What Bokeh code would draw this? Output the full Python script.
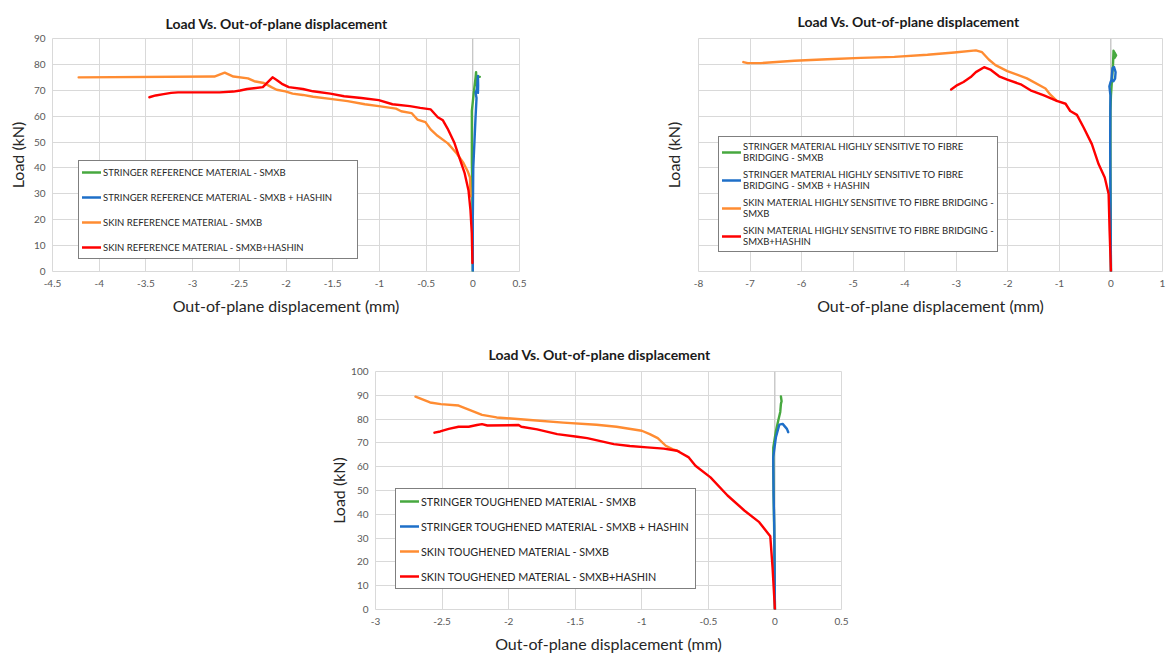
from bokeh.plotting import figure
from bokeh.models import Legend, LegendItem, Span, FixedTicker, Spacer
from bokeh.layouts import row, column
from bokeh.embed import file_html
from bokeh.resources import INLINE

FONT = "Lato"
TITLE = "Load Vs. Out-of-plane  displacement"
XLABEL = "Out-of-plane displacement (mm)"
YLABEL = "Load (kN)"

COLORS = ["#47A83F", "#1E6FC8", "#FF8C32", "#FF0000"]

# ---------------- Chart A: reference material ----------------
A_labels = ["STRINGER REFERENCE MATERIAL - SMXB",
            "STRINGER REFERENCE MATERIAL - SMXB + HASHIN",
            "SKIN REFERENCE MATERIAL - SMXB",
            "SKIN REFERENCE MATERIAL - SMXB+HASHIN"]
A_xticks = [-4.5, -4, -3.5, -3, -2.5, -2, -1.5, -1, -0.5, 0, 0.5]
A_xtick_labels = ["-4.5", "-4", "-3.5", "-3", "-2.5", "-2", "-1.5", "-1", "-0.5", "0", "0.5"]
A_yticks = [0, 10, 20, 30, 40, 50, 60, 70, 80, 90]
A_ytick_labels = ["0", "10", "20", "30", "40", "50", "60", "70", "80", "90"]

A_green_x = [0.0, -0.005, -0.01, -0.01, 0.01, 0.03, 0.035, 0.04, 0.045, 0.075]
A_green_y = [0, 30, 42, 62, 69, 75, 77, 72, 75.4, 75.2]
A_blue_x = [0.0, 0.0, 0.005, 0.02, 0.03, 0.04, 0.03, 0.045, 0.055, 0.057, 0.055]
A_blue_y = [0, 20, 40, 52, 60, 67, 69, 70.5, 75.5, 72, 69]
A_orange_x = [-4.22, -2.767, -2.656, -2.563, -2.407, -2.34, -2.237, -2.156, -2.1, -2.007,
              -1.93, -1.82, -1.71, -1.526, -1.34, -1.156, -1.007, -0.822, -0.767, -0.656,
              -0.593, -0.507, -0.452, -0.378, -0.267, -0.174, -0.1, -0.052, -0.03, -0.025]
A_orange_y = [75.0, 75.3, 76.8, 75.3, 74.6, 73.5, 72.8, 71.2, 70.2, 69.6,
              68.7, 68.2, 67.5, 66.7, 65.8, 64.6, 63.9, 62.9, 61.9, 61.2,
              58.7, 57.7, 54.9, 52.4, 49.5, 45.7, 41.9, 38.5, 36.3, 29.0]
A_red_x = [-3.463, -3.396, -3.31, -3.23, -3.156, -2.71, -2.563, -2.49, -2.415, -2.248,
           -2.144, -2.1, -2.044, -1.97, -1.82, -1.71, -1.526, -1.378, -1.193, -1.007,
           -0.86, -0.674, -0.563, -0.45, -0.375, -0.32, -0.27, -0.196, -0.143, -0.089,
           -0.046, -0.025, -0.011, -0.004]
A_red_y = [67.3, 68.0, 68.5, 69.0, 69.2, 69.2, 69.5, 69.9, 70.5, 71.2,
           75.0, 74.0, 72.5, 71.2, 70.5, 69.6, 68.7, 67.7, 67.0, 66.2,
           64.6, 63.9, 63.2, 62.6, 59.6, 58.4, 55.2, 49.6, 43.9, 38.2,
           31.3, 23.7, 14.9, 3.3]

# ---------------- Chart B: highly sensitive to fibre bridging ----------------
B_labels = ["STRINGER MATERIAL HIGHLY SENSITIVE TO FIBRE\nBRIDGING - SMXB",
            "STRINGER MATERIAL HIGHLY SENSITIVE TO FIBRE\nBRIDGING - SMXB + HASHIN",
            "SKIN MATERIAL HIGHLY SENSITIVE TO FIBRE BRIDGING -\nSMXB",
            "SKIN MATERIAL HIGHLY SENSITIVE TO FIBRE BRIDGING -\nSMXB+HASHIN"]
B_xticks = [-8, -7, -6, -5, -4, -3, -2, -1, 0, 1]
B_xtick_labels = ["-8", "-7", "-6", "-5", "-4", "-3", "-2", "-1", "0", "1"]
B_yticks = [0, 10, 20, 30, 40, 50, 60, 70, 80, 90]
B_ytick_labels = ["", "", "", "", "", "", "", "", "", ""]

B_green_x = [0.0, -0.01, -0.01, 0.0, 0.02, 0.04, 0.05, 0.07, 0.1, 0.07, 0.05]
B_green_y = [0, 40, 62, 68, 74, 80, 85.3, 84.5, 83.5, 82.5, 83]
B_blue_x = [0.0, -0.01, -0.015, -0.012, -0.01, -0.03, -0.01, 0.01, 0.03, 0.06, 0.09, 0.08, 0.05, 0.02]
B_blue_y = [0, 30, 50, 63, 68, 71.5, 73, 74, 78.5, 79, 77, 74.5, 73.5, 74]
B_orange_x = [-7.13, -7.045, -6.79, -6.14, -5.5, -4.85, -4.2, -3.56, -3.04, -2.62,
              -2.5, -2.37, -2.24, -2.01, -1.63, -1.27, -1.18, -1.05]
B_orange_y = [80.9, 80.5, 80.5, 81.4, 82.0, 82.5, 82.9, 83.7, 84.6, 85.4,
              84.7, 81.9, 79.7, 77.4, 74.6, 70.7, 68.4, 65.9]
B_red_x = [-3.10, -2.98, -2.86, -2.72, -2.62, -2.46, -2.34, -2.17, -2.01, -1.75,
           -1.56, -1.30, -1.05, -0.88, -0.79, -0.66, -0.53, -0.37, -0.24, -0.12,
           -0.045, -0.026, 0.0]
B_red_y = [70.3, 72.0, 73.2, 75.1, 77.0, 78.9, 78.0, 75.4, 74.1, 72.3,
           70.0, 68.0, 65.9, 64.8, 62.0, 60.5, 55.6, 49.2, 41.5, 36.3,
           29.9, 15.8, 0.0]

# ---------------- Chart C: toughened material ----------------
C_labels = ["STRINGER TOUGHENED MATERIAL - SMXB",
            "STRINGER TOUGHENED MATERIAL - SMXB + HASHIN",
            "SKIN TOUGHENED MATERIAL - SMXB",
            "SKIN TOUGHENED MATERIAL - SMXB+HASHIN"]
C_xticks = [-3, -2.5, -2, -1.5, -1, -0.5, 0, 0.5]
C_xtick_labels = ["-3", "-2.5", "-2", "-1.5", "-1", "-0.5", "0", "0.5"]
C_yticks = [0, 10, 20, 30, 40, 50, 60, 70, 80, 90, 100]
C_ytick_labels = ["0", "10", "20", "30", "40", "50", "60", "70", "80", "90", "100"]

C_green_x = [0.0, -0.005, -0.0125, -0.0125, 0.0075, 0.025, 0.04, 0.045, 0.05, 0.045]
C_green_y = [0, 30, 60, 68, 75, 79.4, 83, 86.4, 87.5, 89.5]
C_blue_x = [0.0, -0.005, -0.01, -0.0125, 0.0075, 0.033, 0.058, 0.09, 0.1]
C_blue_y = [0, 35, 48, 64, 72.4, 77.7, 78, 75.9, 74.5]
C_orange_x = [-2.70, -2.59, -2.51, -2.376, -2.29, -2.2, -2.09, -1.84, -1.59, -1.34,
              -1.19, -1.0, -0.94, -0.88, -0.82, -0.77, -0.72]
C_orange_y = [89.4, 87.0, 86.3, 85.7, 83.8, 81.8, 80.7, 79.6, 78.5, 77.6,
              76.8, 75.1, 73.7, 72.0, 68.8, 67.4, 66.4]
C_red_x = [-2.557, -2.514, -2.45, -2.376, -2.3, -2.238, -2.2, -2.16, -1.925, -1.905,
           -1.786, -1.635, -1.485, -1.41, -1.21, -1.09, -0.96, -0.835, -0.735, -0.647,
           -0.597, -0.484, -0.356, -0.23, -0.118, -0.035, -0.018, 0.0]
C_red_y = [74.3, 74.8, 75.9, 76.8, 76.8, 77.5, 77.9, 77.3, 77.5, 76.8,
           75.7, 73.7, 72.6, 72.0, 69.5, 68.7, 68.1, 67.6, 66.7, 63.9,
           60.4, 55.5, 47.9, 41.6, 36.7, 30.8, 17.8, 0.0]


def make_chart(width, height, xr, yr, xticks, xlabels, yticks, ylabels,
               bl, br, bt, bb, title_offset, title_standoff, series, labels, legend_loc,
               legend_font, legend_lh, legend_spacing, legend_pad, legend_lw,
               ylab_standoff, ymaj_standoff):
    p = figure(width=width, height=height, x_range=xr, y_range=yr,
               output_backend="svg", toolbar_location=None,
               min_border_left=bl, min_border_right=br,
               min_border_top=bt, min_border_bottom=bb)
    p.title.text = TITLE
    p.title.align = "left"
    p.title.offset = title_offset
    p.title.text_font = FONT
    p.title.text_font_size = "14px"
    p.title.text_font_style = "bold"
    p.title.text_color = "#1a1a1a"
    p.title.standoff = title_standoff

    p.outline_line_color = "#d9d9d9"
    p.background_fill_color = "white"
    p.border_fill_color = "white"

    p.xaxis.ticker = FixedTicker(ticks=xticks)
    p.yaxis.ticker = FixedTicker(ticks=yticks)
    p.xaxis.major_label_overrides = {float(t): l for t, l in zip(xticks, xlabels)}
    p.yaxis.major_label_overrides = {float(t): l for t, l in zip(yticks, ylabels)}
    p.xgrid.ticker = FixedTicker(ticks=xticks)
    p.ygrid.ticker = FixedTicker(ticks=yticks)
    p.grid.grid_line_color = "#d9d9d9"
    p.grid.grid_line_width = 1

    for ax in (p.xaxis, p.yaxis):
        ax.axis_line_color = None
        ax.major_tick_line_color = None
        ax.minor_tick_line_color = None
        ax.major_tick_out = 0
        ax.major_tick_in = 0
        ax.minor_tick_out = 0
        ax.minor_tick_in = 0
        ax.major_label_text_font = FONT
        ax.major_label_text_font_size = "10px"
        ax.major_label_text_color = "#595959"
        ax.axis_label_text_font = FONT
        ax.axis_label_text_font_size = "16px"
        ax.axis_label_text_font_style = "normal"
        ax.axis_label_text_color = "#262626"
    p.xaxis.axis_label = XLABEL
    p.yaxis.axis_label = YLABEL
    p.xaxis.major_label_standoff = 8
    p.xaxis.axis_label_standoff = 6
    p.yaxis.major_label_standoff = ymaj_standoff
    p.yaxis.axis_label_standoff = ylab_standoff

    p.add_layout(Span(location=0, dimension="height", line_color="#bfbfbf",
                      line_width=1, level="underlay"))

    items = []
    for (xs, ys), color, lab in zip(series, COLORS, labels):
        r = p.line(xs, ys, line_color=color, line_width=2.4,
                   line_join="round", line_cap="round")
        items.append(LegendItem(label=lab, renderers=[r]))

    legend = Legend(items=items, location=legend_loc,
                    border_line_color="black", border_line_width=1,
                    background_fill_color="white", background_fill_alpha=1,
                    label_text_font=FONT, label_text_font_size=legend_font,
                    label_text_color="#262626",
                    glyph_width=19, glyph_height=legend_lh, label_height=legend_lh,
                    label_width=legend_lw,
                    spacing=legend_spacing, padding=legend_pad, label_standoff=2, margin=0)
    p.add_layout(legend)
    return p


pA = make_chart(540, 335, (-4.5, 0.5), (0, 90), A_xticks, A_xtick_labels, A_yticks, A_ytick_labels,
                52, 21, 38, 59, 113, 13,
                [(A_green_x, A_green_y), (A_blue_x, A_blue_y), (A_orange_x, A_orange_y), (A_red_x, A_red_y)],
                A_labels, (26, 12), "9.5px", 16, 9, 3, 251, 4, 7)

pB = make_chart(508, 335, (-8, 1), (0, 90), B_xticks, B_xtick_labels, B_yticks, B_ytick_labels,
                37, 6, 37, 64, 99, 18,
                [(B_green_x, B_green_y), (B_blue_x, B_blue_y), (B_orange_x, B_orange_y), (B_red_x, B_red_y)],
                B_labels, (20, 19), "9.5px", 24, 4, 3, 250, 16, 0)

pC = make_chart(524, 320, (-3, 0.5), (0, 100), C_xticks, C_xtick_labels, C_yticks, C_ytick_labels,
                49, 9, 36, 46, 113, 17,
                [(C_green_x, C_green_y), (C_blue_x, C_blue_y), (C_orange_x, C_orange_y), (C_red_x, C_red_y)],
                C_labels, (20, 20), "10.8px", 16, 9, 4, 270, 0, 7)

layout = column(
    row(pA, Spacer(width=120, height=335), pB),
    row(Spacer(width=326, height=320), pC),
)

open("out.html", "w").write(file_html(layout, INLINE))
